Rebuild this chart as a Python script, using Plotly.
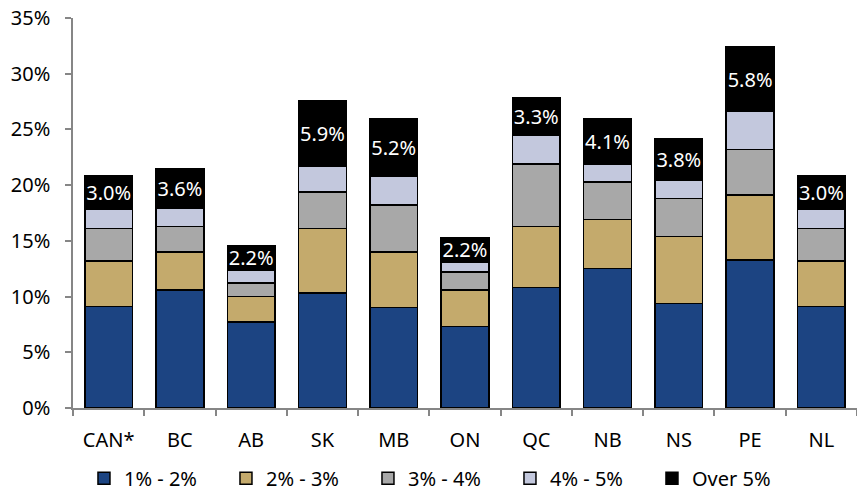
import plotly.graph_objects as go

# Provinces / national average along the x axis
regions = ["CAN*", "BC", "AB", "SK", "MB", "ON", "QC", "NB", "NS", "PE", "NL"]

# Share (%) in each band, stacked bottom to top
band_1_2 = [9.1, 10.6, 7.7, 10.3, 9.0, 7.3, 10.8, 12.5, 9.4, 13.3, 9.1]
band_2_3 = [4.1, 3.4, 2.3, 5.8, 5.0, 3.3, 5.5, 4.4, 6.0, 5.8, 4.1]
band_3_4 = [2.9, 2.3, 1.2, 3.3, 4.2, 1.6, 5.6, 3.4, 3.4, 4.1, 2.9]
band_4_5 = [1.7, 1.6, 1.2, 2.3, 2.6, 0.9, 2.6, 1.6, 1.6, 3.4, 1.7]
band_over5 = [3.0, 3.6, 2.2, 5.9, 5.2, 2.2, 3.3, 4.1, 3.8, 5.8, 3.0]

series = [
    ("1% - 2%", band_1_2, "#1C4482"),
    ("2% - 3%", band_2_3, "#C4AA6C"),
    ("3% - 4%", band_3_4, "#A8A8A8"),
    ("4% - 5%", band_4_5, "#C3C8DD"),
    ("Over 5%", band_over5, "#000000"),
]

FONT = "Noto Sans"
SIZE = 20

fig = go.Figure()
for name, vals, color in series:
    labelled = name == "Over 5%"
    fig.add_trace(go.Bar(
        x=regions,
        y=vals,
        name=name,
        marker=dict(color=color, line=dict(color="#000000", width=1.5)),
        text=[f"{v:.1f}%" for v in vals] if labelled else None,
        textposition="inside" if labelled else "none",
        insidetextanchor="middle",
        textangle=0,
        textfont=dict(color="#FFFFFF", size=SIZE, family=FONT),
        hoverinfo="x+y+name",
    ))

fig.update_layout(
    barmode="stack",
    bargap=0.33,
    width=857,
    height=494,
    margin=dict(l=73, r=0, t=18, b=86),
    paper_bgcolor="#FFFFFF",
    plot_bgcolor="#FFFFFF",
    font=dict(family=FONT, size=SIZE, color="#000000"),
    uniformtext=dict(minsize=SIZE, mode="show"),
    showlegend=True,
    legend=dict(
        orientation="h",
        x=0.014,
        xanchor="left",
        yref="container",
        y=0.032,
        yanchor="middle",
        entrywidth=97,
        entrywidthmode="pixels",
        font=dict(size=SIZE, family=FONT),
        traceorder="normal",
    ),
)

fig.update_yaxes(
    range=[0, 35],
    dtick=5,
    ticksuffix="%",
    showgrid=False,
    zeroline=False,
    showline=True,
    linecolor="#868686",
    linewidth=1.5,
    ticks="outside",
    ticklen=6,
    tickcolor="#868686",
    tickwidth=1.5,
    ticklabelstandoff=11,
)

fig.update_xaxes(
    showgrid=False,
    showline=True,
    linecolor="#868686",
    linewidth=1.5,
    ticks="outside",
    tickson="boundaries",
    ticklen=6,
    tickcolor="#868686",
    tickwidth=1.5,
    ticklabelstandoff=13,
)

fig.write_html("out.html")
